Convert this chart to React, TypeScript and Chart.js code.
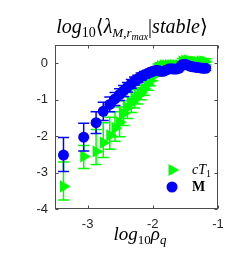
import React, { useEffect, useRef } from 'react';
import { Chart, registerables } from 'chart.js';

Chart.register(...registerables);

// log10(rho_q) positions of the samples
const logRho = [-3.37, -3.06, -2.87, -2.76, -2.66, -2.58, -2.51, -2.45, -2.39, -2.33, -2.28, -2.23, -2.18, -2.13, -2.08, -2.04, -2.0, -1.96, -1.92, -1.88, -1.84, -1.8, -1.76, -1.72, -1.68, -1.64, -1.6, -1.55, -1.51, -1.47, -1.43, -1.39, -1.35, -1.31, -1.27, -1.23, -1.19];

// series M (blue circles)
const mY = [-2.52, -2.03, -1.63, -1.32, -1.13, -0.98, -0.86, -0.76, -0.66, -0.57, -0.49, -0.43, -0.37, -0.32, -0.28, -0.25, -0.22, -0.2, -0.2, -0.22, -0.22, -0.19, -0.16, -0.15, -0.16, -0.16, -0.14, -0.04, -0.03, -0.05, -0.08, -0.1, -0.11, -0.12, -0.13, -0.14, -0.14];
const mErrUp = [0.48, 0.38, 0.3, 0.25, 0.2, 0.18, 0.16, 0.15, 0.13, 0.12, 0.11, 0.1, 0.1, 0.09, 0.08, 0.08, 0.08, 0.07, 0.07, 0.07, 0.07, 0.07, 0.07, 0.07, 0.06, 0.06, 0.06, 0.06, 0.06, 0.06, 0.06, 0.06, 0.06, 0.06, 0.06, 0.06, 0.06];
const mErrDown = [0.45, 0.38, 0.3, 0.25, 0.2, 0.18, 0.16, 0.15, 0.13, 0.12, 0.11, 0.1, 0.1, 0.09, 0.08, 0.08, 0.08, 0.07, 0.07, 0.07, 0.07, 0.07, 0.07, 0.07, 0.06, 0.06, 0.06, 0.06, 0.06, 0.06, 0.06, 0.06, 0.06, 0.06, 0.06, 0.06, 0.06];

// series cT1 (green triangles)
const cY = [-3.38, -2.56, -2.42, -2.18, -1.98, -1.78, -1.62, -1.38, -1.22, -1.08, -0.98, -0.9, -0.8, -0.7, -0.58, -0.48, -0.36, -0.24, -0.12, -0.08, -0.06, -0.06, -0.05, -0.05, -0.05, -0.05, -0.05, 0.05, 0.07, 0.08, 0.06, 0.05, 0.04, 0.04, 0.05, 0.05, 0.04];
const cErrUp = [0.67, 0.3, 0.6, 0.55, 0.5, 0.45, 0.42, 0.35, 0.3, 0.27, 0.25, 0.22, 0.2, 0.18, 0.16, 0.14, 0.12, 0.1, 0.1, 0.09, 0.09, 0.08, 0.08, 0.08, 0.08, 0.08, 0.08, 0.08, 0.08, 0.08, 0.08, 0.08, 0.08, 0.08, 0.08, 0.08, 0.08];
const cErrDown = [0.37, 0.33, 0.36, 0.41, 0.38, 0.36, 0.4, 0.33, 0.3, 0.27, 0.25, 0.22, 0.2, 0.18, 0.16, 0.14, 0.12, 0.1, 0.1, 0.09, 0.09, 0.08, 0.08, 0.08, 0.08, 0.08, 0.08, 0.08, 0.08, 0.08, 0.08, 0.08, 0.08, 0.08, 0.08, 0.08, 0.08];

const xTicks = [-3, -2, -1];
const yTicks = [-4, -3, -2, -1, 0];

const GREEN = '#00ff00';
const BLUE = '#0000ff';
const SERIF = "'Liberation Serif', 'DejaVu Serif', serif";
const SANS = "'Liberation Sans', Arial, sans-serif";

type Seg = { t: string; font: string; dy?: number };

function drawRich(ctx: CanvasRenderingContext2D, segs: Seg[], cx: number, baseline: number, align: 'center' | 'left' = 'center') {
  let w = 0;
  segs.forEach((s) => {
    ctx.font = s.font;
    w += ctx.measureText(s.t).width;
  });
  let x = align === 'center' ? cx - w / 2 : cx;
  ctx.textAlign = 'left';
  ctx.textBaseline = 'alphabetic';
  segs.forEach((s) => {
    ctx.font = s.font;
    ctx.fillText(s.t, x, baseline + (s.dy || 0));
    x += ctx.measureText(s.t).width;
  });
}

const errorBarPlugin = {
  id: 'errbars',
  beforeDatasetDraw(chart: any, args: any) {
    const ds = chart.data.datasets[args.index];
    const xs = chart.scales.x;
    const ys = chart.scales.y;
    const ctx = chart.ctx as CanvasRenderingContext2D;
    const cap = 5.5;
    ctx.save();
    ctx.strokeStyle = ds.borderColor;
    ctx.lineWidth = 1.5;
    ds.data.forEach((p: any, i: number) => {
      const px = xs.getPixelForValue(p.x);
      const top = ys.getPixelForValue(p.y + ds.errUp[i]);
      const bot = ys.getPixelForValue(p.y - ds.errDown[i]);
      ctx.beginPath();
      ctx.moveTo(px, top);
      ctx.lineTo(px, bot);
      ctx.moveTo(px - cap, top);
      ctx.lineTo(px + cap, top);
      ctx.moveTo(px - cap, bot);
      ctx.lineTo(px + cap, bot);
      ctx.stroke();
    });
    ctx.restore();
  },
};

const decorPlugin = {
  id: 'decor',
  afterDraw(chart: any) {
    const ctx = chart.ctx as CanvasRenderingContext2D;
    const a = chart.chartArea;
    const xs = chart.scales.x;
    const ys = chart.scales.y;
    ctx.save();
    // box
    ctx.strokeStyle = '#4d4d4d';
    ctx.lineWidth = 1;
    const l = Math.round(a.left) + 0.5;
    const r = Math.round(a.right) - 0.5;
    const t = Math.round(a.top) + 0.5;
    const b = Math.round(a.bottom) - 0.5;
    ctx.strokeRect(l, t, r - l, b - t);
    // inward ticks
    ctx.beginPath();
    xTicks.forEach((v) => {
      const px = Math.round(xs.getPixelForValue(v)) + 0.5;
      ctx.moveTo(px, b);
      ctx.lineTo(px, b - 3);
      ctx.moveTo(px, t);
      ctx.lineTo(px, t + 3);
    });
    yTicks.forEach((v) => {
      const py = Math.round(ys.getPixelForValue(v)) + 0.5;
      ctx.moveTo(l, py);
      ctx.lineTo(l + 3, py);
      ctx.moveTo(r, py);
      ctx.lineTo(r - 3, py);
    });
    ctx.stroke();

    ctx.fillStyle = '#000000';
    // title
    drawRich(
      ctx,
      [
        { t: 'log', font: `italic 20px ${SERIF}` },
        { t: '10', font: `14px ${SERIF}`, dy: 4 },
        { t: '⟨', font: `20px ${SERIF}` },
        { t: 'λ', font: `italic 20px ${SERIF}` },
        { t: 'M,r', font: `italic 13px ${SERIF}`, dy: 4 },
        { t: 'max', font: `italic 10px ${SERIF}`, dy: 7 },
        { t: '|', font: `20px ${SERIF}` },
        { t: 'stable', font: `italic 20px ${SERIF}` },
        { t: '⟩', font: `20px ${SERIF}` },
      ],
      132,
      33
    );
    // x label
    drawRich(
      ctx,
      [
        { t: 'log', font: `italic 19px ${SERIF}` },
        { t: '10', font: `13px ${SERIF}`, dy: 4 },
        { t: 'ρ', font: `italic 19px ${SERIF}` },
        { t: 'q', font: `italic 13px ${SERIF}`, dy: 4 },
      ],
      140,
      240
    );

    // legend
    const lx = 172;
    ctx.fillStyle = GREEN;
    ctx.beginPath();
    ctx.moveTo(lx + 7, 170);
    ctx.lineTo(lx - 3.5, 170 - 6);
    ctx.lineTo(lx - 3.5, 170 + 6);
    ctx.closePath();
    ctx.fill();
    ctx.fillStyle = BLUE;
    ctx.beginPath();
    ctx.arc(lx, 187, 5.5, 0, Math.PI * 2);
    ctx.fill();
    ctx.fillStyle = '#000000';
    drawRich(
      ctx,
      [
        { t: 'cT', font: `italic 14px ${SERIF}` },
        { t: '1', font: `10px ${SERIF}`, dy: 3 },
      ],
      192,
      174,
      'left'
    );
    drawRich(ctx, [{ t: 'M', font: `bold 14px ${SERIF}` }], 192, 191, 'left');
    ctx.restore();
  },
};

export default function App() {
  const ref = useRef<HTMLCanvasElement | null>(null);
  useEffect(() => {
    if (!ref.current) return;
    const chart = new Chart(ref.current, {
      type: 'scatter',
      data: {
        datasets: [
          {
            label: 'M',
            data: logRho.map((x, i) => ({ x, y: mY[i] })),
            errUp: mErrUp,
            errDown: mErrDown,
            backgroundColor: BLUE,
            borderColor: BLUE,
            pointStyle: 'circle',
            pointRadius: 5.5,
            pointBorderWidth: 0,
          } as any,
          {
            label: 'cT1',
            data: logRho.map((x, i) => ({ x, y: cY[i] })),
            errUp: cErrUp,
            errDown: cErrDown,
            backgroundColor: GREEN,
            borderColor: GREEN,
            pointStyle: 'triangle',
            rotation: 90,
            pointRadius: 7,
            pointBorderWidth: 0,
          } as any,
        ],
      },
      options: {
        animation: false,
        responsive: false,
        events: [],
        layout: { padding: { left: 0, right: 25, top: 45, bottom: 0 } },
        plugins: { legend: { display: false }, tooltip: { enabled: false }, title: { display: false } },
        scales: {
          x: {
            type: 'linear',
            min: -3.5,
            max: -1,
            grid: { display: false, drawTicks: false },
            border: { display: false },
            afterBuildTicks: (s: any) => {
              s.ticks = xTicks.map((v) => ({ value: v }));
            },
            afterFit: (s: any) => {
              s.height = 53;
            },
            ticks: {
              font: { family: SANS, size: 13 },
              color: '#262626',
              padding: 8,
              maxRotation: 0,
              callback: (v: any) => String(v),
            },
          },
          y: {
            type: 'linear',
            min: -4,
            max: 0.5,
            grid: { display: false, drawTicks: false },
            border: { display: false },
            afterBuildTicks: (s: any) => {
              s.ticks = yTicks.map((v) => ({ value: v }));
            },
            afterFit: (s: any) => {
              s.width = 55;
            },
            ticks: {
              font: { family: SANS, size: 13 },
              color: '#262626',
              padding: 7,
              callback: (v: any) => String(v),
            },
          },
        },
      } as any,
      plugins: [errorBarPlugin, decorPlugin],
    });
    return () => chart.destroy();
  }, []);
  return (
    <div style={{ position: 'fixed', left: 0, top: 0, width: 243, height: 262, background: '#ffffff' }}>
      <canvas ref={ref} width={243} height={262} style={{ width: 243, height: 262, display: 'block' }} />
    </div>
  );
}
